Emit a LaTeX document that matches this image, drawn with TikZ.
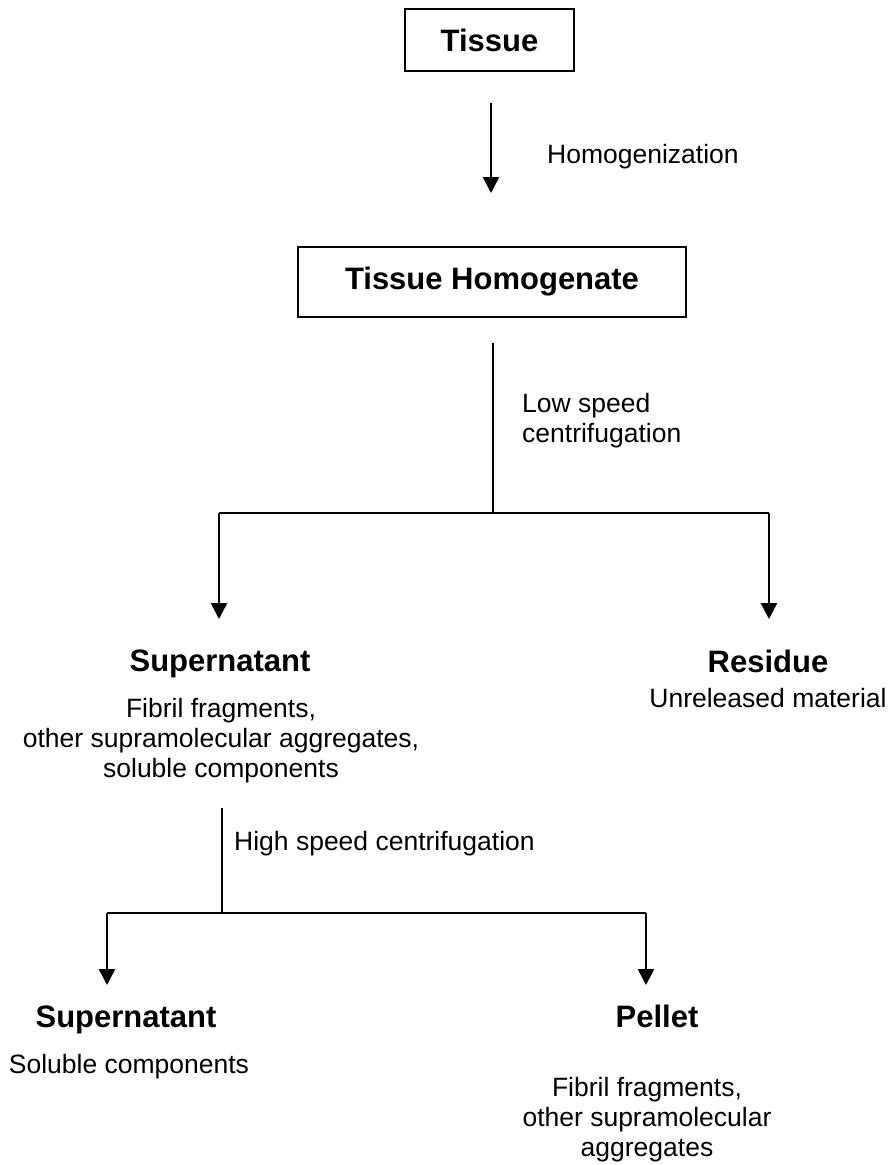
\documentclass[tikz,border=0pt]{standalone}
\usepackage{fontspec}
\setmainfont{Liberation Sans}
\usetikzlibrary{arrows.meta}
\tikzset{
  box/.style={draw, line width=2pt, font=\bfseries\fontsize{31}{36}\selectfont, inner sep=0pt},
  head/.style={font=\bfseries\fontsize{31}{36}\selectfont, inner sep=0pt, anchor=base},
  lbl/.style={font=\fontsize{26.5}{30}\selectfont, inner sep=0pt, align=center, anchor=base},
  lblL/.style={font=\fontsize{26.5}{30}\selectfont, inner sep=0pt, align=left, anchor=base west},
  conn/.style={line width=2.6pt},
  arr/.style={conn, -{Triangle[width=16pt,length=16pt]}},
}
\begin{document}
\begin{tikzpicture}[x=1pt,y=-1pt]
\useasboundingbox (0,0) rectangle (888,1165);
% boxes
\node[box, minimum width=169pt, minimum height=62pt] (tissue) at (489.5,40) {Tissue};
\node[box, minimum width=388pt, minimum height=70pt] (th) at (492,282) {Tissue Homogenate};
% step 1
\coordinate (h1) at (491,103);
\coordinate (h2) at (491,193);
\draw[arr] (h1) -- (h2);
\node[lblL] (homog) at (547,163) {Homogenization};
% step 2
\coordinate (l1) at (493,343);
\coordinate (j1) at (493,513);
\coordinate (b1L) at (219,513);
\coordinate (b1R) at (769,513);
\coordinate (t1L) at (219,619);
\coordinate (t1R) at (769,619);
\draw[conn] (l1) -- (j1);
\draw[conn] (b1L) -- (b1R);
\draw[arr] (b1L) -- (t1L);
\draw[arr] (b1R) -- (t1R);
\node[lblL] (low) at (522,442) {Low speed\\centrifugation};
% results 1
\node[head] (sup1) at (220,671) {Supernatant};
\node[lbl] (sup1t) at (221,777) {Fibril fragments,\\other supramolecular aggregates,\\soluble components};
\node[head] (res) at (768,672) {Residue};
\node[lbl] (rest) at (768,707) {Unreleased material};
% step 3
\coordinate (l2) at (222,808);
\coordinate (j2) at (222,913);
\coordinate (b2L) at (107,913);
\coordinate (b2R) at (646,913);
\coordinate (t2L) at (107,985);
\coordinate (t2R) at (646,985);
\draw[conn] (l2) -- (j2);
\draw[conn] (b2L) -- (b2R);
\draw[arr] (b2L) -- (t2L);
\draw[arr] (b2R) -- (t2R);
\node[lblL] (high) at (234,850) {High speed centrifugation};
% results 2
\node[head] (sup2) at (126,1027) {Supernatant};
\node[lbl] (sup2t) at (129,1073) {Soluble components};
\node[head] (pel) at (657,1027) {Pellet};
\node[lbl] (pelt) at (647,1156) {Fibril fragments,\\other supramolecular\\aggregates};
\end{tikzpicture}
\end{document}
